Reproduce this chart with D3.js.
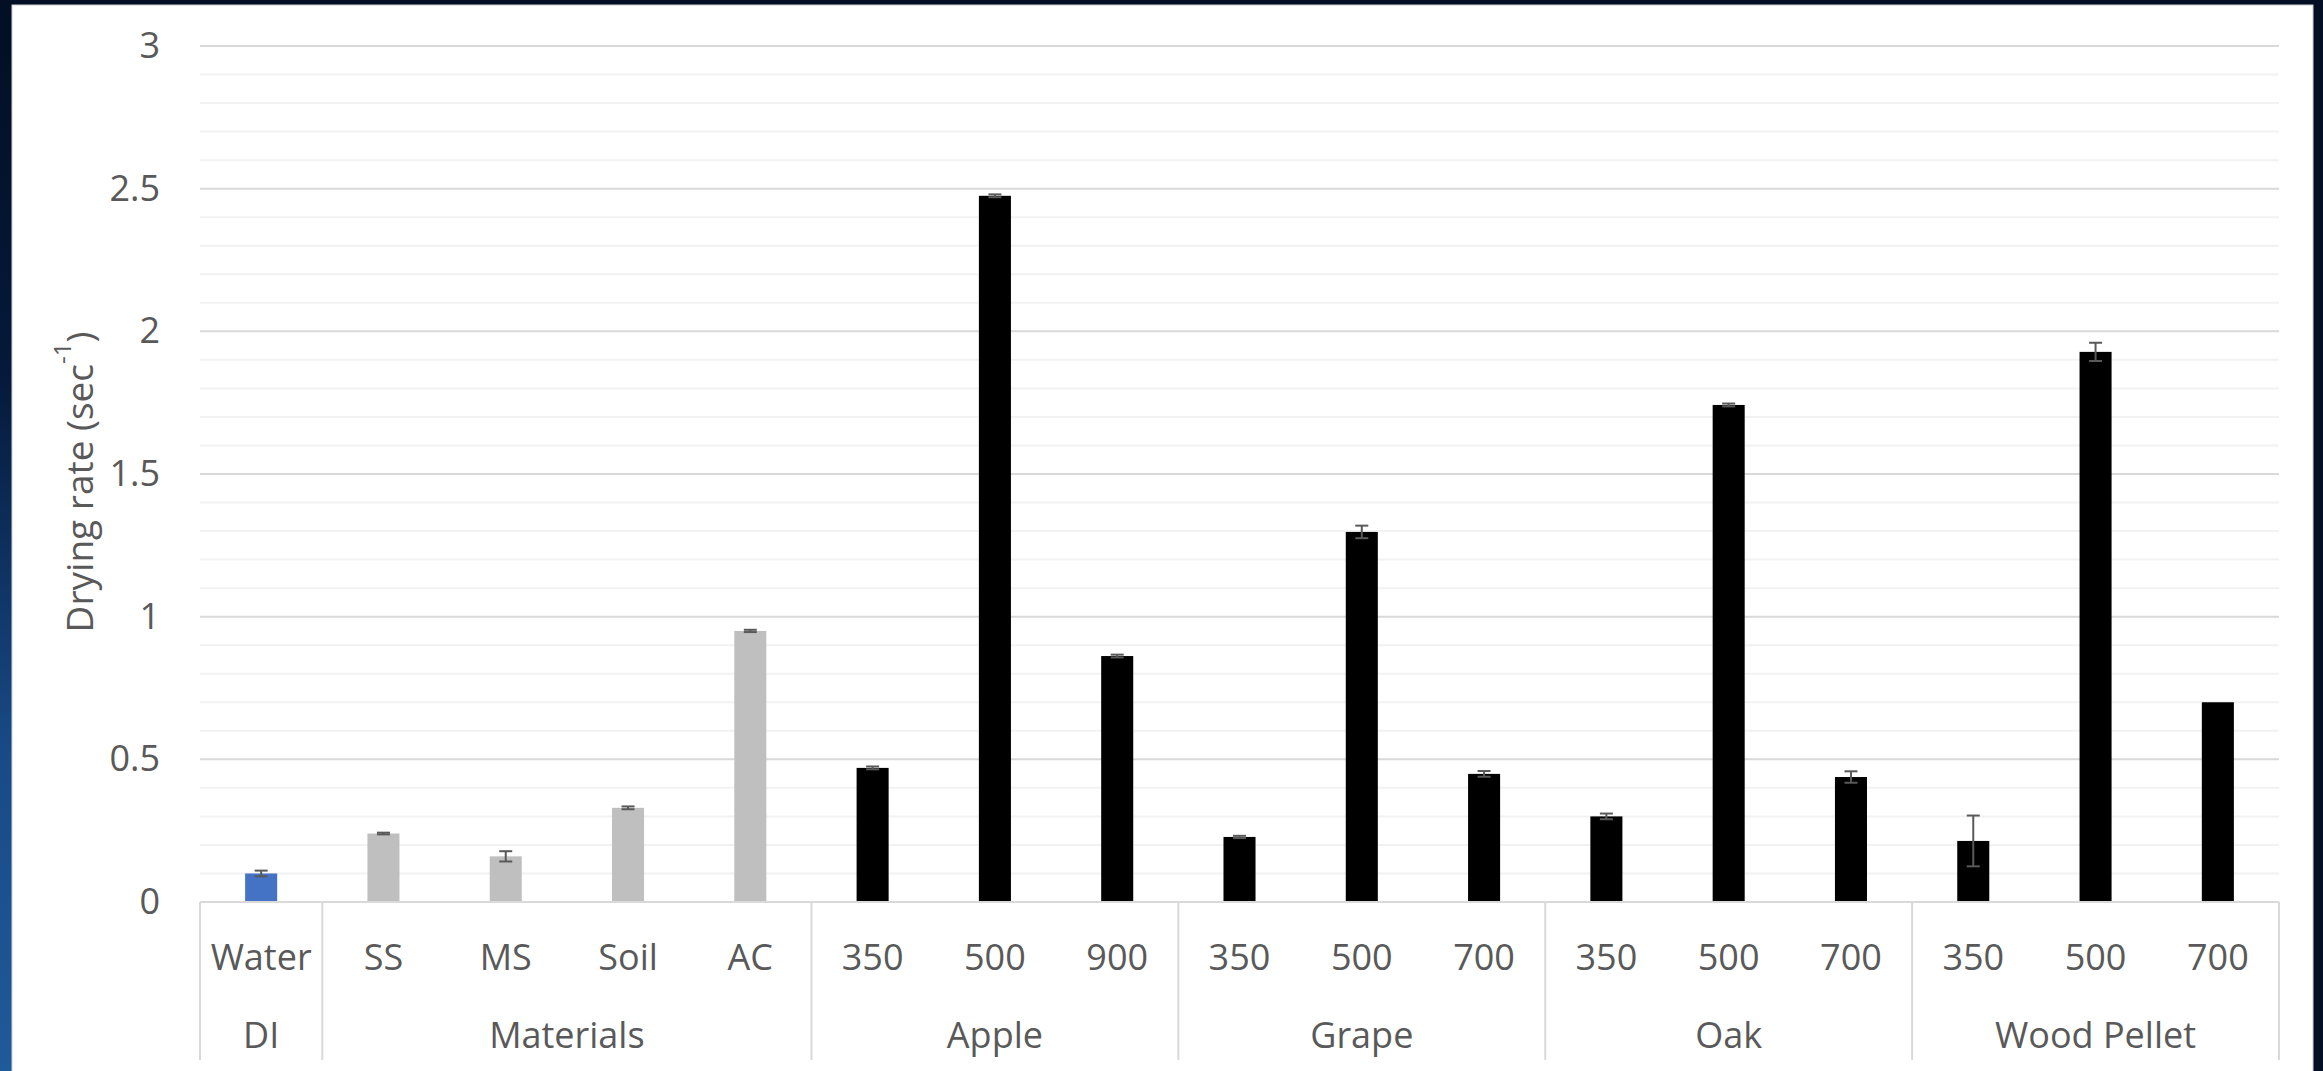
<!DOCTYPE html>
<html>
<head>
<meta charset="utf-8">
<script src="https://cdn.jsdelivr.net/npm/d3@7"></script>
<style>
  html, body { margin: 0; padding: 0; background: #020f24; overflow: hidden; }
  svg { display: block; }
  text { font-family: "Open Sans", "Noto Sans", sans-serif; fill: #595959; }
</style>
</head>
<body>
<svg id="chart" width="2323" height="1071"></svg>
<script>
// ---- data ----
const groups = ["DI", "Materials", "Apple", "Grape", "Oak", "Wood Pellet"];
const groupSizes = [1, 4, 3, 3, 3, 3];
const groupColors = ["#4472c4", "#bfbfbf", "#000000", "#000000", "#000000", "#000000"];
const categories = ["Water", "SS", "MS", "Soil", "AC", "350", "500", "900", "350", "500", "700", "350", "500", "700", "350", "500", "700"];
const values = [0.10, 0.24, 0.16, 0.33, 0.95, 0.47, 2.475, 0.862, 0.228, 1.297, 0.449, 0.30, 1.742, 0.438, 0.214, 1.928, 0.70];
const errors = [0.01, 0.003, 0.018, 0.005, 0.004, 0.005, 0.005, 0.005, 0.004, 0.022, 0.01, 0.01, 0.005, 0.02, 0.089, 0.032, 0];
const yTicks = [0, 0.5, 1, 1.5, 2, 2.5, 3];
const yTitle = "Drying rate (sec";
const yTitleSup = "-1";

(function () {
  const W = 2323, H = 1071;
  const svg = d3.select("#chart");

  // background
  const defs = svg.append("defs");
  const lg = defs.append("linearGradient").attr("id", "leftEdge").attr("x1", 0).attr("y1", 0).attr("x2", 0).attr("y2", 1);
  lg.append("stop").attr("offset", "0%").attr("stop-color", "#020f24");
  lg.append("stop").attr("offset", "35%").attr("stop-color", "#05193a");
  lg.append("stop").attr("offset", "70%").attr("stop-color", "#184a86");
  lg.append("stop").attr("offset", "100%").attr("stop-color", "#1f5a9a");
  svg.append("rect").attr("x", 0).attr("y", 0).attr("width", W).attr("height", H).attr("fill", "#020f24");
  svg.append("rect").attr("x", 0).attr("y", 0).attr("width", 14).attr("height", H).attr("fill", "url(#leftEdge)");
  svg.append("rect").attr("x", 12).attr("y", 5).attr("width", 2301).attr("height", H).attr("fill", "#ffffff")
    .attr("stroke", "#d0d0d0").attr("stroke-width", 1);

  const pLeft = 200, pRight = 2279, pTop = 46, zeroY = 902;

  const x = d3.scaleBand()
    .domain(d3.range(categories.length))
    .range([pLeft, pRight])
    .paddingInner(0.738)
    .paddingOuter(0.369);
  const step = x.step();

  const y = d3.scaleLinear().domain([0, 3]).range([zeroY, pTop]);

  // gridlines
  const minor = d3.range(1, 30).map(i => i / 10).filter(v => Math.abs(v * 2 - Math.round(v * 2)) > 1e-6);
  svg.append("g").selectAll("line").data(minor).join("line")
    .attr("x1", pLeft).attr("x2", pRight)
    .attr("y1", d => y(d)).attr("y2", d => y(d))
    .attr("stroke", "#f2f2f2").attr("stroke-width", 2);
  svg.append("g").selectAll("line").data(yTicks.slice(1)).join("line")
    .attr("x1", pLeft).attr("x2", pRight)
    .attr("y1", d => y(d)).attr("y2", d => y(d))
    .attr("stroke", "#d9d9d9").attr("stroke-width", 2);

  // y axis labels
  const yAxis = d3.axisLeft(y).tickValues(yTicks).tickSize(0).tickPadding(40).tickFormat(d => String(d));
  const yg = svg.append("g").attr("transform", `translate(${pLeft},0)`).call(yAxis);
  yg.select(".domain").remove();
  yg.attr("font-family", null).attr("font-size", null);
  yg.selectAll("text").style("font-size", "36px").attr("fill", "#595959");

  // y title
  const yt = svg.append("text")
    .attr("transform", `translate(78,482) rotate(-90)`)
    .attr("text-anchor", "middle")
    .attr("dominant-baseline", "central")
    .style("font-size", "37px");
  yt.append("tspan").text(yTitle);
  yt.append("tspan").text(yTitleSup).attr("baseline-shift", "super").style("font-size", "24px");
  yt.append("tspan").text(")");

  // bars
  const catGroup = [];
  groupSizes.forEach((n, g) => { for (let i = 0; i < n; i++) catGroup.push(g); });

  svg.append("g").selectAll("rect").data(values).join("rect")
    .attr("x", (d, i) => x(i))
    .attr("width", x.bandwidth())
    .attr("y", d => y(d))
    .attr("height", d => y(0) - y(d))
    .attr("fill", (d, i) => groupColors[catGroup[i]]);

  // error bars
  const eb = svg.append("g").attr("stroke", "#595959").attr("stroke-width", 2);
  values.forEach((v, i) => {
    const e = errors[i];
    if (e <= 0) return;
    const cx = x(i) + x.bandwidth() / 2;
    const cap = 6.5;
    eb.append("line").attr("x1", cx).attr("x2", cx).attr("y1", y(v + e)).attr("y2", y(v - e));
    eb.append("line").attr("x1", cx - cap).attr("x2", cx + cap).attr("y1", y(v + e)).attr("y2", y(v + e));
    eb.append("line").attr("x1", cx - cap).attr("x2", cx + cap).attr("y1", y(v - e)).attr("y2", y(v - e));
  });

  // x axis line
  svg.append("line").attr("x1", pLeft).attr("x2", pRight).attr("y1", zeroY).attr("y2", zeroY)
    .attr("stroke", "#d9d9d9").attr("stroke-width", 2);

  // group separators
  let idx = 0;
  const bounds = [0];
  groupSizes.forEach(n => { idx += n; bounds.push(idx); });
  const sepX = bounds.map(b => b < categories.length ? x(b) - step * x.paddingInner() / 2 : pRight);
  svg.append("g").selectAll("line").data(sepX).join("line")
    .attr("x1", d => d).attr("x2", d => d)
    .attr("y1", zeroY).attr("y2", 1060)
    .attr("stroke", "#d9d9d9").attr("stroke-width", 2);

  // category labels
  svg.append("g").selectAll("text").data(categories).join("text")
    .attr("x", (d, i) => x(i) + x.bandwidth() / 2)
    .attr("y", 970)
    .attr("text-anchor", "middle")
    .style("font-size", "36px")
    .text(d => d);

  // group labels
  svg.append("g").selectAll("text").data(groups).join("text")
    .attr("x", (d, g) => (sepX[g] + sepX[g + 1]) / 2)
    .attr("y", 1048)
    .attr("text-anchor", "middle")
    .style("font-size", "36px")
    .text(d => d);
})();
</script>
</body>
</html>
